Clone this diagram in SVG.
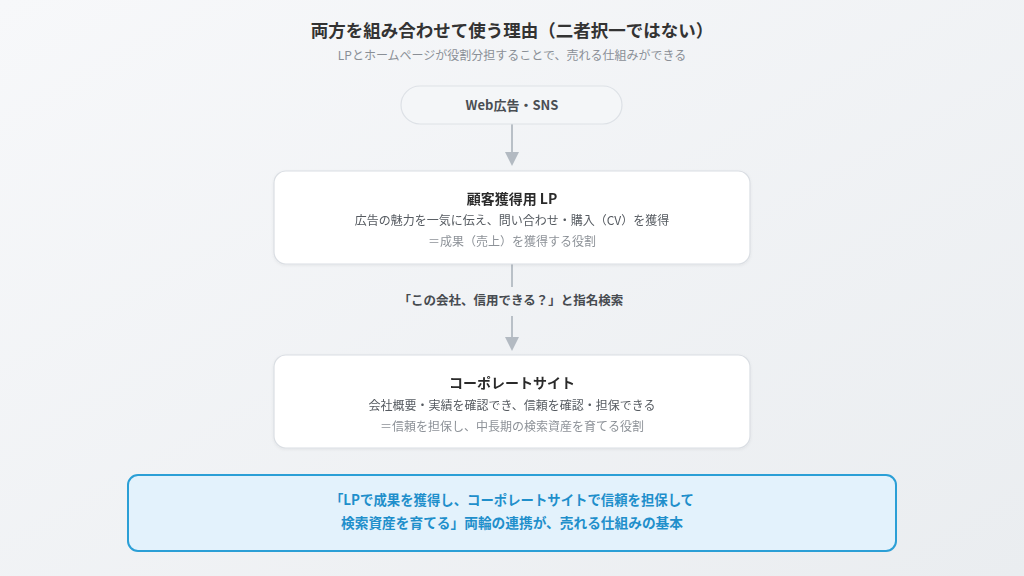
<svg xmlns="http://www.w3.org/2000/svg" width="1024" height="576" viewBox="0 0 1024 576">
<defs>
<linearGradient id="bg" x1="0" y1="0" x2="1" y2="1">
<stop offset="0" stop-color="#f7f8fa"/>
<stop offset="1" stop-color="#eaedf0"/>
</linearGradient>
<filter id="sh" x="-5%" y="-20%" width="110%" height="140%">
<feDropShadow dx="0" dy="1" stdDeviation="1.5" flood-color="#000" flood-opacity="0.06"/>
</filter>
<style>
text{font-family:"Noto Sans CJK JP","Noto Sans",sans-serif;text-anchor:middle}
.title{font-size:17.5px;font-weight:700;fill:#333}
.sub{font-size:12px;fill:#8a8f96}
.pill{fill:#f4f6f8;stroke:#dde1e6;stroke-width:1.2}
.box{fill:#ffffff;stroke:#dadee3;stroke-width:1.2}
.nt{font-size:14px;font-weight:700;fill:#2b2b2b}
.d1{font-size:12px;fill:#555a60}
.d2{font-size:12px;fill:#8d9298}
.lbl{font-size:12.5px;font-weight:700;fill:#474b50}
.conn{stroke:#b9c0c7;stroke-width:2;fill:none}
.hd{fill:#b3bac2}
.sum{fill:#e3f2fc;stroke:#2b9fd6;stroke-width:2}
.st{font-size:14px;font-weight:700;fill:#1f8fcb}
</style>
</defs>
<rect width="1024" height="576" fill="url(#bg)"/>
<g id="heading">
<text class="title" x="512" y="37">両方を組み合わせて使う理由（二者択一ではない）</text>
<text class="sub" x="512" y="60">LPとホームページが役割分担することで、売れる仕組みができる</text>
</g>
<g id="connectors">
<line class="conn" x1="512" y1="124" x2="512" y2="153"/>
<path class="hd" d="M505,152 L519,152 L512,166 Z"/>
<line class="conn" x1="512" y1="264" x2="512" y2="287"/>
<line class="conn" x1="512" y1="316" x2="512" y2="338"/>
<path class="hd" d="M505,337 L519,337 L512,351 Z"/>
<text class="lbl" x="511" y="305">「この会社、信用できる？」と指名検索</text>
</g>
<g id="node-web">
<rect class="pill" x="401" y="86" width="221" height="38" rx="19"/>
<text x="512" y="110" style="font-size:13px;font-weight:700;fill:#4a4e53">Web広告・SNS</text>
</g>
<g id="node-lp" filter="url(#sh)">
<rect class="box" x="274" y="171" width="476" height="93" rx="12"/>
<text class="nt" x="512" y="204">顧客獲得用 LP</text>
<text class="d1" x="512" y="225">広告の魅力を一気に伝え、問い合わせ・購入（CV）を獲得</text>
<text class="d2" x="512" y="246">＝成果（売上）を獲得する役割</text>
</g>
<g id="node-corp" filter="url(#sh)">
<rect class="box" x="274" y="355" width="476" height="93" rx="12"/>
<text class="nt" x="512" y="388">コーポレートサイト</text>
<text class="d1" x="512" y="410">会社概要・実績を確認でき、信頼を確認・担保できる</text>
<text class="d2" x="512" y="431">＝信頼を担保し、中長期の検索資産を育てる役割</text>
</g>
<g id="node-summary">
<rect class="sum" x="128" y="475" width="768" height="76" rx="10"/>
<text class="st" x="512" y="505" textLength="364" lengthAdjust="spacingAndGlyphs">「LPで成果を獲得し、コーポレートサイトで信頼を担保して</text>
<text class="st" x="512" y="528" textLength="342" lengthAdjust="spacingAndGlyphs">検索資産を育てる」両輪の連携が、売れる仕組みの基本</text>
</g>
</svg>
